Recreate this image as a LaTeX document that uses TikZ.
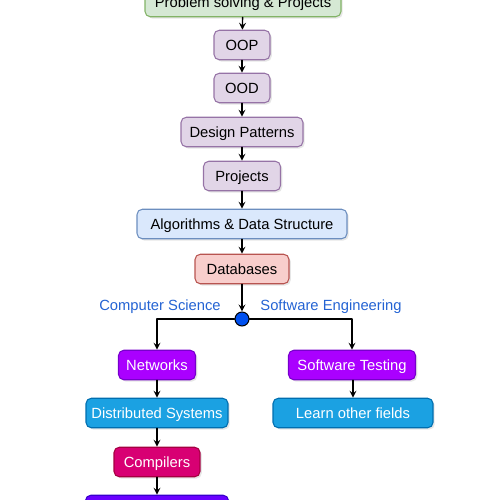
\documentclass[tikz,border=0pt]{standalone}
\usepackage{fontspec}
\setmainfont{Liberation Sans}
\usetikzlibrary{shadows}
\definecolor{grfill}{HTML}{D5E8D4}\definecolor{grline}{HTML}{82B366}
\definecolor{pufill}{HTML}{E1D5E7}\definecolor{puline}{HTML}{9673A6}
\definecolor{blfill}{HTML}{DAE8FC}\definecolor{blline}{HTML}{6C8EBF}
\definecolor{rdfill}{HTML}{F8CECC}\definecolor{rdline}{HTML}{B85450}
\definecolor{vifill}{HTML}{AA00FF}\definecolor{viline}{HTML}{7700CC}
\definecolor{cyfill}{HTML}{1BA1E2}\definecolor{cyline}{HTML}{006EAF}
\definecolor{mgfill}{HTML}{D80073}\definecolor{mgline}{HTML}{A50040}
\definecolor{infill}{HTML}{6A00FF}\definecolor{inline}{HTML}{3700CC}
\definecolor{dotfill}{HTML}{0050EF}\definecolor{lbltext}{HTML}{2463D3}
\tikzset{
  box/.style={draw,rounded corners=3pt,minimum height=0.59cm,inner sep=2pt,line width=0.6pt,
    text height=1.6ex,text depth=0.35ex,
    drop shadow={opacity=0.2,shadow xshift=1pt,shadow yshift=-1pt}},
  grbox/.style={box,fill=grfill,draw=grline},
  pubox/.style={box,fill=pufill,draw=puline},
  blbox/.style={box,fill=blfill,draw=blline},
  rdbox/.style={box,fill=rdfill,draw=rdline},
  vibox/.style={box,fill=vifill,draw=viline,text=white},
  cybox/.style={box,fill=cyfill,draw=cyline,text=white},
  mgbox/.style={box,fill=mgfill,draw=mgline,text=white},
  inbox/.style={box,fill=infill,draw=inline,text=white},
  lbl/.style={text=lbltext,inner sep=1pt},
  link/.style={->,line width=0.75pt},
}
\begin{document}
\begin{tikzpicture}[x=0.02cm,y=-0.02cm,line join=round,line cap=round,>=stealth,font=\fontsize{8.4}{10}\selectfont]
	\useasboundingbox (0,0) rectangle (500,500);
	% main column
	\node[grbox,minimum width=3.92cm] (prob) at (243,2) {Problem solving \& Projects};
	\node[pubox,minimum width=1.12cm] (oop) at (242,45) {OOP};
	\node[pubox,minimum width=1.12cm] (ood) at (242,88) {OOD};
	\node[pubox,minimum width=2.44cm] (dp) at (242,132) {Design Patterns};
	\node[pubox,minimum width=1.54cm] (proj) at (242,176) {Projects};
	\node[blbox,minimum width=4.2cm] (algo) at (242,224) {Algorithms \& Data Structure};
	\node[rdbox,minimum width=1.88cm] (db) at (242,269) {Databases};
	\node[circle,draw=black,fill=dotfill,line width=0.6pt,minimum size=0.28cm,inner sep=0pt] (split) at (242,319) {};
	\node[lbl] (cs) at (160,307) {Computer Science};
	\node[lbl] (se) at (331,307) {Software Engineering};
	% left branch
	\node[vibox,minimum width=1.54cm] (net) at (157,365) {Networks};
	\node[cybox,minimum width=2.84cm] (dist) at (157,413) {Distributed Systems};
	\node[mgbox,minimum width=1.72cm] (comp) at (157,462) {Compilers};
	\node[inbox,minimum width=2.86cm] (last) at (157,510) {};
	% right branch
	\node[vibox,minimum width=2.54cm] (test) at (352,365) {Software Testing};
	\node[cybox,minimum width=3.2cm] (learn) at (353,413) {Learn other fields};
	\draw[link] (prob)--(oop);
	\draw[link] (oop)--(ood);
	\draw[link] (ood)--(dp);
	\draw[link] (dp)--(proj);
	\draw[link] (proj)--(algo);
	\draw[link] (algo)--(db);
	\draw[link] (db)--(split);
	\draw[link] (split)-|(net);
	\draw[link] (split)-|(test);
	\draw[link] (net)--(dist);
	\draw[link] (dist)--(comp);
	\draw[link] (comp)--(last);
	\draw[link] (test.south-|learn)--(learn);
\end{tikzpicture}
\end{document}
